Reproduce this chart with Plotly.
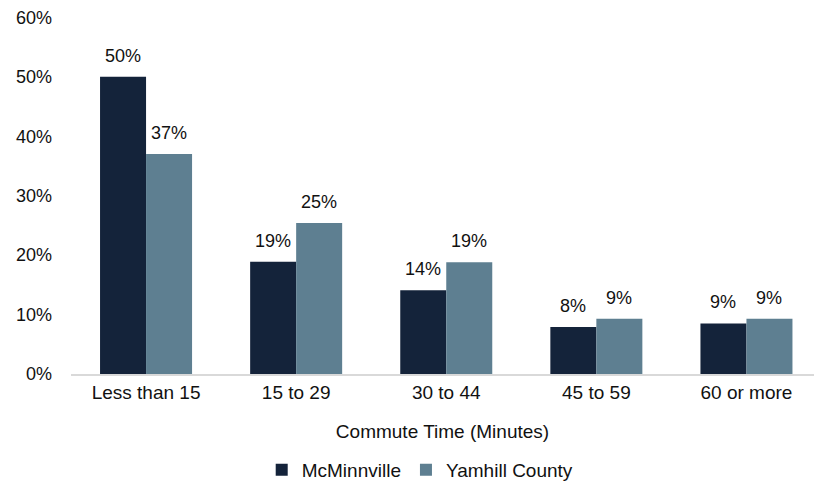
import plotly.graph_objects as go

categories = ["Less than 15", "15 to 29", "30 to 44", "45 to 59", "60 or more"]
mcminnville = [50.0, 18.9, 14.1, 7.9, 8.5]
yamhill = [37.0, 25.4, 18.8, 9.3, 9.3]
mcminnville_labels = ["50%", "19%", "14%", "8%", "9%"]
yamhill_labels = ["37%", "25%", "19%", "9%", "9%"]
y_ticks = [0, 10, 20, 30, 40, 50, 60]
y_tick_labels = ["0%", "10%", "20%", "30%", "40%", "50%", "60%"]

font_family = "Liberation Sans, Arial, sans-serif"
text_color = "#111111"

fig = go.Figure()
fig.add_trace(go.Bar(
    name="McMinnville", x=categories, y=mcminnville,
    marker=dict(color="#14233A", line=dict(width=0)),
))
fig.add_trace(go.Bar(
    name="Yamhill County", x=categories, y=yamhill,
    marker=dict(color="#5E7F91", line=dict(width=0)),
))

# data labels placed above each bar via the axes
for vals, labels, shift in [(mcminnville, mcminnville_labels, -23),
                            (yamhill, yamhill_labels, 23)]:
    for c, v, t in zip(categories, vals, labels):
        fig.add_annotation(x=c, y=v, text=t, showarrow=False,
                           xshift=shift, yshift=9, yanchor="bottom",
                           font=dict(size=18, color=text_color, family=font_family))

fig.update_layout(
    width=814, height=489,
    margin=dict(l=71, r=0, t=17, b=114),
    barmode="group", bargap=0.387, bargroupgap=0,
    plot_bgcolor="white", paper_bgcolor="white",
    font=dict(family=font_family, size=18, color=text_color),
    showlegend=True,
    legend=dict(orientation="h", x=0.47, xanchor="center", y=-0.216, yanchor="top",
                font=dict(size=19), itemwidth=30, traceorder="normal"),
    xaxis=dict(
        range=[-0.5, 4.45], automargin=False,
        title=dict(text="Commute Time (Minutes)", font=dict(size=19), standoff=23),
        showline=True, linecolor="#D9D9D9", linewidth=2,
        ticks="", tickfont=dict(size=19),
    ),
    yaxis=dict(
        range=[0, 60.05], tickvals=y_ticks, ticktext=y_tick_labels, automargin=False,
        showgrid=False, zeroline=False, showline=False,
        ticks="", tickfont=dict(size=18), ticklabelstandoff=18,
    ),
)

fig.write_html("out.html", config={"displayModeBar": False},
               post_script="document.body.style.margin='0';document.body.style.overflow='hidden';")
